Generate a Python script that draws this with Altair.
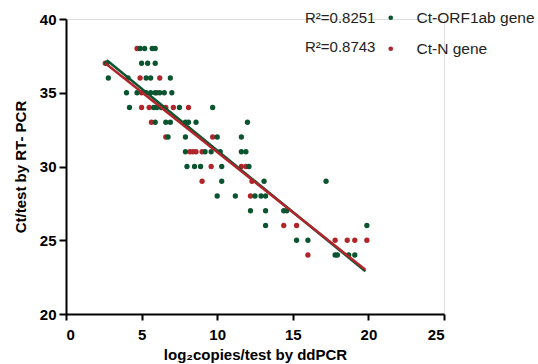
import altair as alt
import pandas as pd

genes = ["Ct-ORF1ab gene", "Ct-N gene"]
colors = ["#0a5430", "#b0252a"]
r2_labels = ["R²=0.8251", "R²=0.8743"]

# Ct-ORF1ab gene points (log2 copies, Ct)
orf_x = [4.9, 5.2, 5.7, 5.9,
         2.7, 5.0, 5.4, 5.9,
         2.8, 4.1, 5.3, 5.6, 6.9,
         4.0, 4.7, 5.3, 5.6, 5.9, 6.2, 6.5, 7.0,
         4.2, 5.8, 6.0, 6.3, 7.5, 9.7,
         5.9, 6.6, 6.9, 7.9, 8.1, 8.6, 12.0,
         6.75, 7.9, 10.0, 11.6,
         7.9, 9.2, 9.6, 10.2, 11.6, 11.9,
         8.0, 8.5, 8.9, 10.3, 12.1,
         10.3, 13.1, 17.2,
         10.0, 11.2, 12.5, 12.9, 13.2,
         12.2, 13.2, 14.4, 14.6,
         13.2, 19.9,
         15.25, 16.0,
         17.8, 17.95, 18.7, 19.1]
orf_ct = [38, 38, 38, 38,
          37, 37, 37, 37,
          36, 36, 36, 36, 36,
          35, 35, 35, 35, 35, 35, 35, 35,
          34, 34, 34, 34, 34, 34,
          33, 33, 33, 33, 33, 33, 33,
          32, 32, 32, 32,
          31, 31, 31, 31, 31, 31,
          30, 30, 30, 30, 30,
          29, 29, 29,
          28, 28, 28, 28, 28,
          27, 27, 27, 27,
          26, 26,
          25, 25,
          24, 24, 24, 24]

# Ct-N gene points
n_x = [4.7,
       2.6,
       4.9, 6.2,
       5.0, 6.0,
       5.0, 5.5, 6.6, 7.1, 8.1,
       5.65,
       6.6, 9.7,
       8.2, 8.4, 8.6, 9.0,
       9.6, 11.6, 11.9,
       9.0, 12.3,
       12.2,
       14.4, 15.25,
       17.8, 18.6, 19.1, 19.9,
       16.0]
n_ct = [38,
        37,
        36, 36,
        35, 35,
        34, 34, 34, 34, 34,
        33,
        32, 32,
        31, 31, 31, 31,
        30, 30, 30,
        29, 29,
        28,
        26, 26,
        25, 25, 25, 25,
        24]

# regression line end points
line_orf_x = [2.7, 19.8]
line_orf_ct = [37.2, 22.9]
line_n_x = [2.6, 19.8]
line_n_ct = [37.0, 23.0]

pts = pd.concat([
    pd.DataFrame({"x": n_x, "ct": n_ct, "gene": genes[1]}),
    pd.DataFrame({"x": orf_x, "ct": orf_ct, "gene": genes[0]}),
], ignore_index=True)

lines_orf = pd.DataFrame({"x": line_orf_x, "ct": line_orf_ct})
lines_n = pd.DataFrame({"x": line_n_x, "ct": line_n_ct})

FONT = "Liberation Sans"

xscale = alt.Scale(domain=[0, 25], nice=False, zero=False)
yscale = alt.Scale(domain=[20, 40], nice=False, zero=False)

xaxis = alt.Axis(values=[0, 5, 10, 15, 20, 25], grid=False, title="log₂copies/test by ddPCR",
                 domainColor="black", domainWidth=2, tickColor="black", tickWidth=2, tickSize=6,
                 labelFont=FONT, labelFontSize=15, labelFontWeight="bold", labelColor="black",
                 labelPadding=7, titleFont=FONT, titleFontSize=15, titleFontWeight="bold",
                 titleColor="black", titlePadding=5)
yaxis = alt.Axis(values=[20, 25, 30, 35, 40], grid=False, title="Ct/test by RT- PCR",
                 domainColor="black", domainWidth=2, tickColor="black", tickWidth=2, tickSize=7,
                 labelFont=FONT, labelFontSize=15, labelFontWeight="bold", labelColor="black",
                 labelPadding=3, titleFont=FONT, titleFontSize=15, titleFontWeight="bold",
                 titleColor="black", titlePadding=11)

points = alt.Chart(pts).mark_circle(size=28, opacity=1).encode(
    x=alt.X("x:Q", scale=xscale, axis=xaxis),
    y=alt.Y("ct:Q", scale=yscale, axis=yaxis),
    color=alt.Color("gene:N", scale=alt.Scale(domain=genes, range=colors),
                    sort=genes,
                    legend=alt.Legend(title=None, orient="none", legendX=317, legendY=-9,
                                      symbolType="circle", symbolSize=22, labelFont=FONT,
                                      labelFontSize=15.5, labelColor="#222222", labelOffset=18,
                                      rowPadding=14, padding=0)),
)

line_g = alt.Chart(lines_orf).mark_line(color=colors[0], strokeWidth=2.5).encode(
    x=alt.X("x:Q", scale=xscale), y=alt.Y("ct:Q", scale=yscale))
line_r = alt.Chart(lines_n).mark_line(color=colors[1], strokeWidth=2.5).encode(
    x=alt.X("x:Q", scale=xscale), y=alt.Y("ct:Q", scale=yscale))

r2a = alt.Chart(pd.DataFrame({"t": [r2_labels[0]]})).mark_text(
    align="left", baseline="middle", font=FONT, fontSize=15, color="#222222").encode(
    x=alt.value(239), y=alt.value(-1), text="t:N")
r2b = alt.Chart(pd.DataFrame({"t": [r2_labels[1]]})).mark_text(
    align="left", baseline="middle", font=FONT, fontSize=15, color="#222222").encode(
    x=alt.value(239), y=alt.value(28), text="t:N")

chart = alt.layer(points, line_g, line_r, r2a, r2b).properties(
    width=378, height=295,
    padding={"left": 66, "top": 19, "right": 94, "bottom": 50},
    autosize="none",
).configure_view(stroke=None).configure(background="white")

chart.save("out.html", embed_options={"renderer": "svg", "actions": False})
